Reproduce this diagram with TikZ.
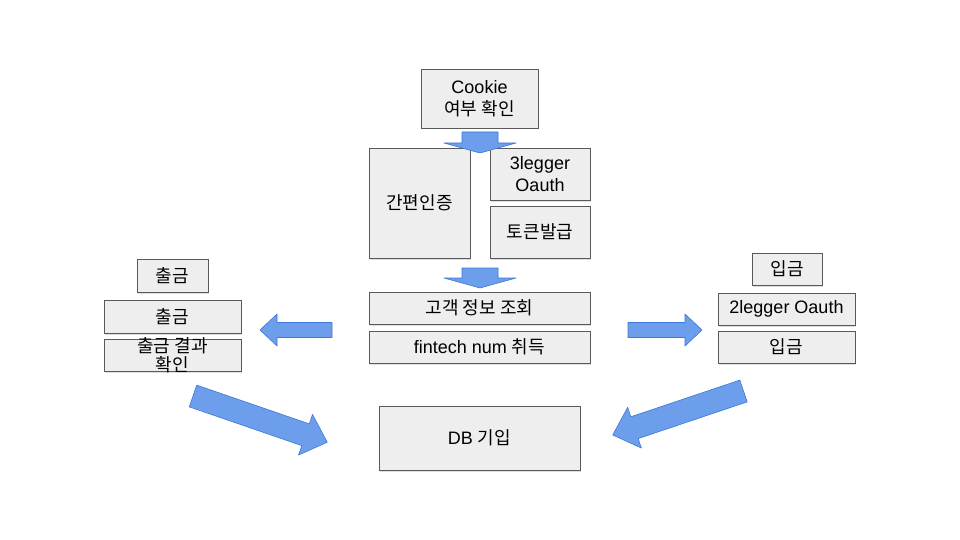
\documentclass[tikz,border=0pt]{standalone}
\usepackage{fontspec}
\setmainfont{Liberation Sans}
\newfontfamily\kr{Noto Sans CJK KR}
\usetikzlibrary{shadows}
\definecolor{boxfill}{HTML}{EEEEEE}
\definecolor{boxline}{HTML}{595959}
\definecolor{arrowfill}{HTML}{6D9EEB}
\definecolor{arrowline}{HTML}{3C78D8}
\tikzstyle{box}=[draw=boxline,fill=boxfill,line width=0.8pt,inner sep=2pt,align=center,
  font=\fontsize{18}{22}\selectfont,
  drop shadow={shadow xshift=1pt,shadow yshift=-1.5pt,opacity=0.25}]
\tikzstyle{bigarrow}=[draw=arrowline,fill=arrowfill,line width=0.6pt,line join=round]
% block arrow: tail, angle, length, shaft width, head width, head length
\newcommand{\blockarrow}[6]{%
  \begin{scope}[shift={(#1)},rotate=#2]
    \draw[bigarrow] (0,{-#4/2}) -- ({#3-#6},{-#4/2}) -- ({#3-#6},{-#5/2}) -- (#3,0)
      -- ({#3-#6},{#5/2}) -- ({#3-#6},{#4/2}) -- (0,{#4/2}) -- cycle;
  \end{scope}}

\begin{document}
\begin{tikzpicture}[x=1pt,y=-1pt]
    \fill[white] (0,0) rectangle (960,540);
    \useasboundingbox (0,0) rectangle (960,540);
    % middle column
    \node[box,minimum width=117pt,minimum height=59pt] (cookie) at (479.5,98.5) {Cookie\\{\kr 여부 확인}};
    \node[box,minimum width=101pt,minimum height=110pt] (easy) at (419.5,203) {\kr 간편인증};
    \node[box,minimum width=100pt,minimum height=52pt] (three) at (540,174) {3legger\\Oauth};
    \node[box,minimum width=100pt,minimum height=52pt] (token) at (540,232) {\kr 토큰발급};
    \node[box,minimum width=221pt,minimum height=32pt] (cust) at (479.5,308) {\kr 고객 정보 조회};
    \node[box,minimum width=221pt,minimum height=32pt] (fin) at (479.5,347) {fintech num {\kr 취득}};
    \node[box,minimum width=201pt,minimum height=64pt] (db) at (479.5,438) {DB {\kr 기입}};
    % left column
    \node[box,minimum width=71pt,minimum height=33pt] (outT) at (172.5,275.5) {\kr 출금};
    \node[box,minimum width=137pt,minimum height=33pt] (out) at (172.5,316.5) {\kr 출금};
    \node[box,minimum width=137pt,minimum height=32pt,
      label={[align=center,font=\fontsize{18}{19}\selectfont\kr]center:출금 결과\\확인}] (outchk) at (172.5,355) {};
    % right column
    \node[box,minimum width=70pt,minimum height=32pt] (inT) at (787,269) {\kr 입금};
    \node[box,minimum width=137pt,minimum height=32pt] (in2) at (786.5,309) {2legger Oauth};
    \node[box,minimum width=137pt,minimum height=32pt] (in) at (786.5,347) {\kr 입금};
    % block arrows
    \blockarrow{480,132}{-90}{21}{36}{72}{10}
    \blockarrow{480,268}{-90}{20}{36}{72}{10}
    \blockarrow{332,330}{180}{72}{15}{32}{17}
    \blockarrow{628,330}{0}{74}{15}{32}{17}
    \blockarrow{193,396}{-19}{142}{23}{43}{23}
    \blockarrow{743.5,391}{-161.4}{138}{23}{43}{23}
\end{tikzpicture}
\end{document}
